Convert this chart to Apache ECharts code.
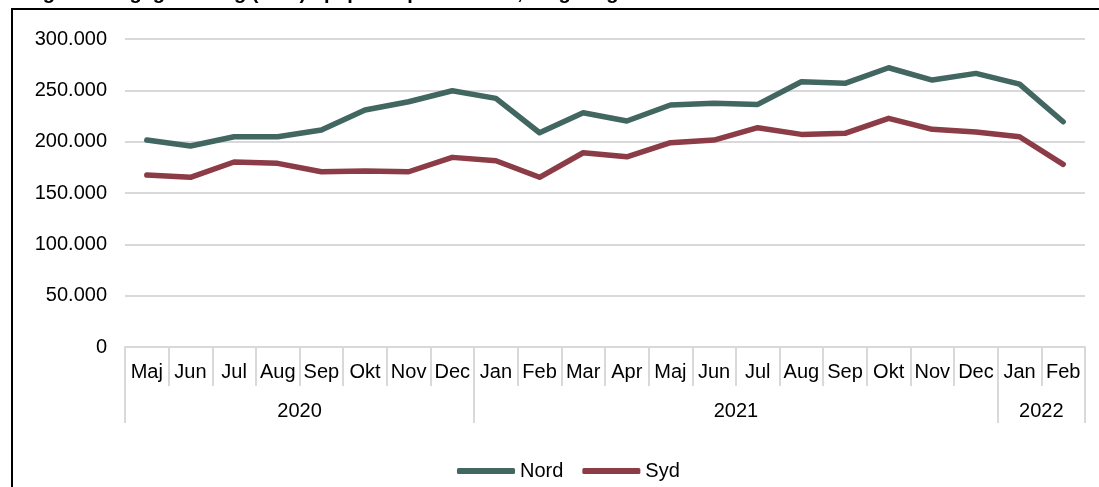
<!DOCTYPE html>
<html>
<head>
<meta charset="utf-8">
<script src="https://cdn.jsdelivr.net/npm/echarts@6/dist/echarts.min.js"></script>
<style>
  html, body { margin: 0; padding: 0; background: #fff; overflow: hidden; }
  #wrap { position: relative; width: 1099px; height: 487px; overflow: hidden; }
  #chart { width: 1099px; height: 487px; }
  #frame { position: absolute; left: 11px; top: 8px; width: 1200px; height: 600px; border: 2px solid #000; pointer-events: none; }
</style>
</head>
<body>
<div id="wrap">
  <div id="chart"></div>
  <div id="frame"></div>
</div>
<script>
  // maaneder maj 2020 - feb 2022
  let months = ['Maj', 'Jun', 'Jul', 'Aug', 'Sep', 'Okt', 'Nov', 'Dec',
    'Jan', 'Feb', 'Mar', 'Apr', 'Maj', 'Jun', 'Jul', 'Aug', 'Sep', 'Okt', 'Nov', 'Dec',
    'Jan', 'Feb']
  let years = ['2020', '2021', '2022']
  let yearStarts = [0, 8, 20] // index i months hvor aaret starter

  let nord = [201600, 195800, 204800, 204800, 211300, 230800, 238900, 249600,
    242200, 208700, 228200, 220100, 235700, 237300, 236300, 258400, 256800, 272000, 260000, 266500,
    256100, 219400]
  let syd = [167500, 165300, 180200, 178900, 170700, 171400, 170700, 184700,
    181400, 165300, 189200, 185300, 199000, 201600, 213600, 207100, 208100, 222700, 212000, 209400,
    204800, 177900]

  let yTicks = [0, 50000, 100000, 150000, 200000, 250000, 300000]

  // aarsgraenser og midtpunkter til den nederste akse
  let yearBounds = yearStarts.concat([months.length])
  let yearMids = []
  for (let i = 0; i < years.length; i++) {
    yearMids.push((yearBounds[i] + yearBounds[i + 1]) / 2)
  }

  let font = 'Liberation Sans, Arial, sans-serif'
  let grey = '#d9d9dc'

  let chart = echarts.init(document.getElementById('chart'))
  let option = {
    animation: false,
    title: {
      text: 'Figur 3: Dagligvaresalg (mio.) opsplittet på landsdel, 3-ugers gns.',
      left: 20,
      top: -22,
      textStyle: { fontFamily: font, fontSize: 20, fontWeight: 'bold', color: '#000' }
    },
    legend: {
      left: 452,
      top: 456,
      icon: 'roundRect',
      itemWidth: 58,
      itemHeight: 6,
      itemGap: 19,
      textStyle: { fontFamily: font, fontSize: 20, color: '#000' },
      data: ['Nord', 'Syd']
    },
    grid: { left: 125, right: 14, top: 39, bottom: 140, containLabel: false },
    xAxis: [
      {
        type: 'category',
        data: months,
        boundaryGap: true,
        axisLine: { show: true, lineStyle: { color: grey, width: 2 } },
        axisTick: { show: true, interval: 0, length: 39, lineStyle: { color: grey, width: 2 } },
        axisLabel: { interval: 0, margin: 15, fontFamily: font, fontSize: 20, color: '#000' },
        splitLine: { show: false }
      },
      {
        // aarstal under maanederne
        type: 'value',
        position: 'bottom',
        offset: 39,
        min: 0,
        max: months.length,
        axisLine: { show: false },
        axisTick: { show: true, length: 37, customValues: yearBounds, lineStyle: { color: grey, width: 2 } },
        axisLabel: {
          margin: 15,
          customValues: yearMids,
          fontFamily: font, fontSize: 20, color: '#000',
          formatter: function (v) {
            let i = yearMids.indexOf(v)
            return i >= 0 ? years[i] : ''
          }
        },
        splitLine: { show: false }
      }
    ],
    yAxis: {
      type: 'value',
      min: yTicks[0],
      max: yTicks[yTicks.length - 1],
      interval: yTicks[1] - yTicks[0],
      axisLine: { show: false },
      axisTick: { show: false },
      axisLabel: {
        margin: 18,
        fontFamily: font, fontSize: 20, color: '#000',
        formatter: function (v) {
          return String(v).replace(/\B(?=(\d{3})+(?!\d))/g, '.')
        }
      },
      splitLine: { lineStyle: { color: grey, width: 2 } }
    },
    series: [
      {
        name: 'Nord',
        type: 'line',
        data: nord,
        showSymbol: false,
        symbol: 'none',
        color: '#426660',
        lineStyle: { width: 5.5, cap: 'round', join: 'round' }
      },
      {
        name: 'Syd',
        type: 'line',
        data: syd,
        showSymbol: false,
        symbol: 'none',
        color: '#8b3c46',
        lineStyle: { width: 5.5, cap: 'round', join: 'round' }
      }
    ]
  }
  chart.setOption(option)
</script>
</body>
</html>
